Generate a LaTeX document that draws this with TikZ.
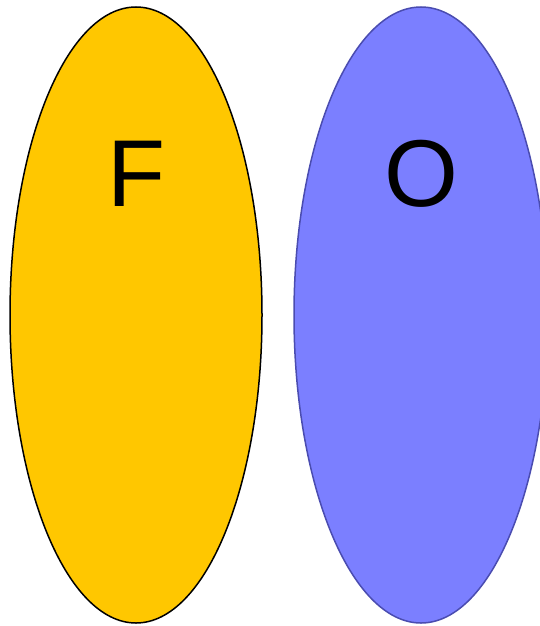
\documentclass[tikz,border=0pt]{standalone}
\usepackage{fontspec}
\setmainfont{Liberation Sans}
\definecolor{yel}{HTML}{FFC700}
\definecolor{blu}{HTML}{7B7FFF}
\definecolor{bluedge}{HTML}{4A4CB0}
\begin{document}
\begin{tikzpicture}[x=1pt,y=-1pt,
  setF/.style={fill=yel,draw=black,line width=1.5pt},
  setO/.style={fill=blu,draw=bluedge,line width=1.5pt},
  lbl/.style={font=\fontsize{95}{95}\selectfont,inner sep=0pt,anchor=base}]
\useasboundingbox (0,0) rectangle (540,626);
\begin{scope}
\clip (0,0) rectangle (540,626);
\draw[setF] (136,315) ellipse [x radius=126, y radius=308];
\draw[setO] (421,315) ellipse [x radius=127, y radius=308];
\end{scope}
\node[lbl] (F) at (137,206) {F};
\node[lbl] (O) at (421,206) {O};
\end{tikzpicture}
\end{document}
